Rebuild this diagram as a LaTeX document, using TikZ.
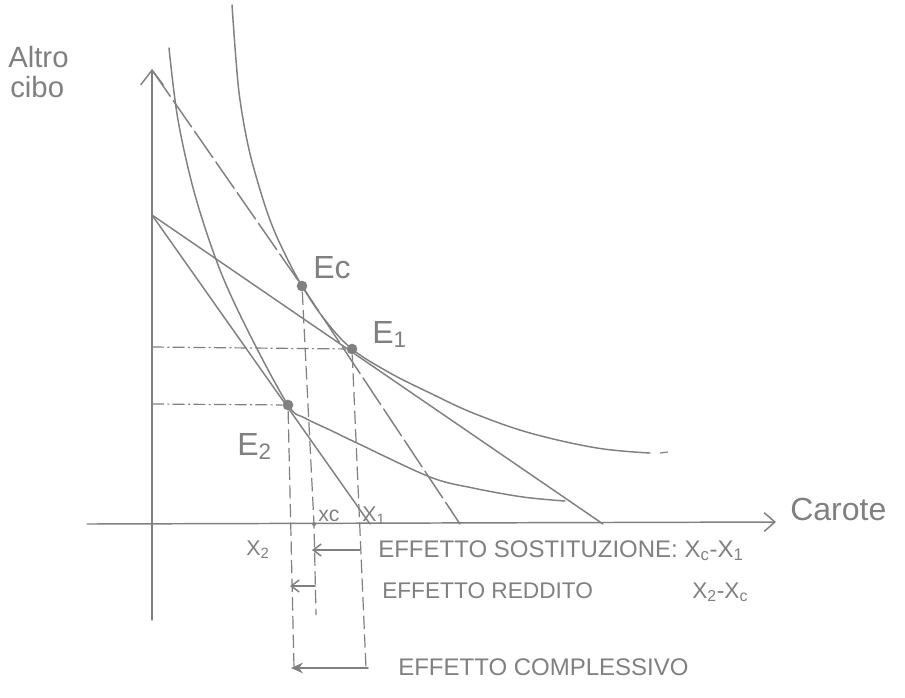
\documentclass[tikz,border=0pt]{standalone}
\usepackage{fontspec}
\setmainfont{Liberation Sans}
\usetikzlibrary{arrows.meta}
\definecolor{pen}{RGB}{128,128,128}
\begin{document}
\begin{tikzpicture}[x=0.75pt,y=-0.75pt,
  ln/.style={draw=pen, line width=1.1pt, line cap=round, line join=round},
  thin/.style={draw=pen, line width=0.9pt},
  dashdot/.style={thin, dash pattern=on 9pt off 2.5pt on 1.5pt off 2.5pt},
  vdash/.style={thin, dash pattern=on 10pt off 4pt},
  longdash/.style={ln, dash pattern=on 24pt off 4pt},
  pt/.style={circle, fill=pen, inner sep=0pt, minimum size=8pt},
  smallpt/.style={circle, fill=pen, inner sep=0pt, minimum size=3pt},
  lab/.style={text=pen, inner sep=0pt, anchor=base west},
  barb/.style={-{Straight Barb[length=6pt,width=9pt]}},
  fullarrow/.style={-{Stealth[length=9pt,width=8pt]}}
]
\path[use as bounding box] (0,0) rectangle (905,697);

% axes
\coordinate (Ybot) at (152,620);
\coordinate (Ytop) at (152,69);
\coordinate (Xleft) at (87,524);
\coordinate (Xright) at (776,522);
\draw[ln, -{Straight Barb[length=11pt,width=17pt]}] (Ybot) -- (Ytop);
\draw[ln, -{Straight Barb[length=8pt,width=14pt]}] (Xleft) -- (Xright);

% points
\node[pt] (Ec) at (302,286) {};
\node[pt] (E1) at (352,349) {};
\node[pt] (E2) at (288,405) {};
\node[smallpt] (xcdot) at (314,524) {};

% budget lines
\coordinate (A) at (152,215);
\coordinate (B1) at (603,524);
\coordinate (B2) at (370,524);
\draw[ln] (A) -- (B1);
\draw[ln] (A) -- (B2);

% compensated budget line
\coordinate (C1) at (152,70);
\coordinate (C2) at (460,524);
\draw[longdash] (C1) -- (Ec.center) -- (C2);

% indifference curves
\draw[ln] plot[smooth, tension=0.6] coordinates {(232,5) (236,60) (240,100) (248,145) (258,183) (270,220) (283,250) (302,286) (325,320) (352,349) (390,373) (430,393) (473,413) (530,433) (597,448) (650,453)};
\draw[thin] (660,453) -- (668,452);
\draw[ln] plot[smooth, tension=0.55] coordinates {(169,48) (178,120) (195,195) (220,270) (250,335) (288,405) (305,418) (330,430) (357,443) (430,477) (473,488) (523,497) (565,501)};

% projections
\coordinate (H1) at (152,347);
\coordinate (H2) at (152,404);
\draw[dashdot] (H1) -- (E1);
\draw[dashdot] (H2) -- (E2);
\coordinate (V2) at (294,668);
\coordinate (Vc) at (316,615);
\coordinate (V1) at (366,668);
\draw[vdash] (E2) -- (V2);
\draw[vdash] (Ec) -- (xcdot.center) -- (Vc);
\draw[vdash] (E1) -- (V1);

% effect arrows
\coordinate (S1) at (360,550);
\coordinate (S2) at (312,550);
\coordinate (R1) at (315,586);
\coordinate (R2) at (290,586);
\coordinate (T1) at (368,668);
\coordinate (T2) at (291,668);
\draw[ln, barb] (S1) -- (S2);
\draw[ln, barb] (R1) -- (R2);
\draw[ln, fullarrow] (T1) -- (T2);

% labels
\node[lab, font=\fontsize{22}{26}\selectfont] (ya) at (8,67) {Altro};
\node[lab, font=\fontsize{22}{26}\selectfont] (yb) at (10,97) {cibo};
\node[lab, font=\fontsize{24}{28}\selectfont] (xl) at (790,520) {Carote};
\node[lab, font=\fontsize{24}{28}\selectfont] (lEc) at (313,278) {Ec};
\node[lab, font=\fontsize{24}{28}\selectfont] (lE1) at (372,343) {E\textsubscript{1}};
\node[lab, font=\fontsize{24}{28}\selectfont] (lE2) at (237,455) {E\textsubscript{2}};
\node[lab, font=\fontsize{16}{18}\selectfont] (lX2) at (246,555) {X\textsubscript{2}};
\node[lab, font=\fontsize{16}{18}\selectfont] (lxc) at (318,521) {xc};
\node[lab, font=\fontsize{16}{18}\selectfont] (lX1) at (362,521) {X\textsubscript{1}};
\node[lab, font=\fontsize{18}{22}\selectfont] (ls) at (378,557) {EFFETTO SOSTITUZIONE: X\textsubscript{c}-X\textsubscript{1}};
\node[lab, font=\fontsize{17}{20}\selectfont] (lr) at (382,598) {EFFETTO REDDITO};
\node[lab, font=\fontsize{17}{20}\selectfont] (lr2) at (692,598) {X\textsubscript{2}-X\textsubscript{c}};
\node[lab, font=\fontsize{18}{22}\selectfont] (lt) at (398,675) {EFFETTO COMPLESSIVO};
\end{tikzpicture}
\end{document}
